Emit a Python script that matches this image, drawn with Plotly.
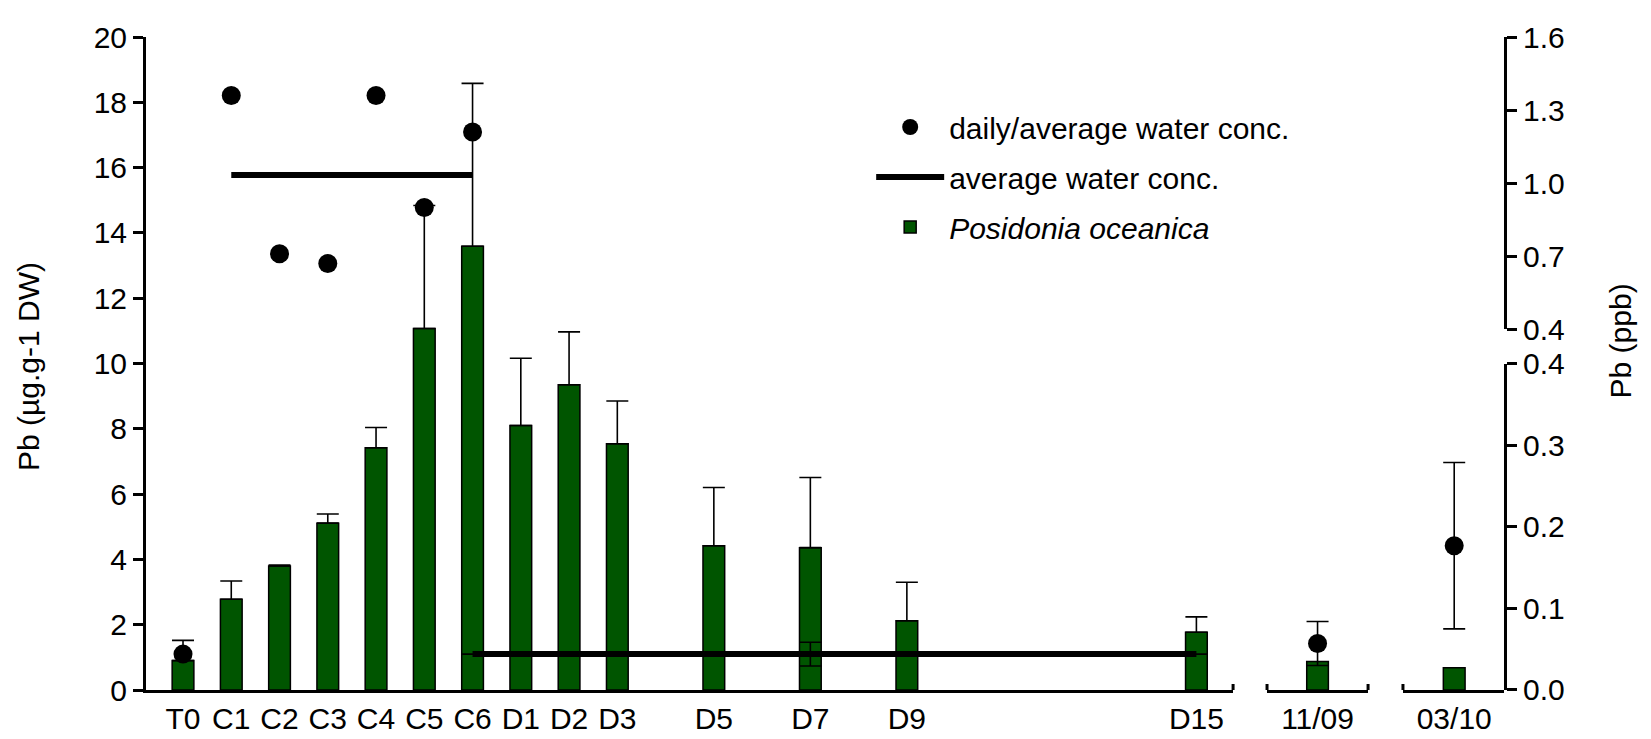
import plotly.graph_objects as go

# ---------------- data ----------------
cats_main = ["T0", "C1", "C2", "C3", "C4", "C5", "C6", "D1", "D2", "D3", "D5", "D7", "D9", "D15"]
day_main = [0, 1, 2, 3, 4, 5, 6, 7, 8, 9, 11, 13, 15, 21]
posidonia_main = [0.90, 2.78, 3.80, 5.11, 7.42, 11.07, 13.59, 8.10, 9.35, 7.54, 4.42, 4.36, 2.12, 1.77]
posidonia_main_err = [0.62, 0.56, 0.03, 0.28, 0.62, 3.77, 4.99, 2.06, 1.62, 1.31, 1.78, 2.15, 1.18, 0.47]

cat_nov = ["11/09"]
posidonia_nov = [0.87]
cat_mar = ["03/10"]
posidonia_mar = [0.68]

# water concentrations (ppb, right axis)
water_high_cats = ["C1", "C2", "C3", "C4", "C5", "C6"]
water_high = [1.36, 0.71, 0.67, 1.36, 0.90, 1.21]
water_t0_cat = ["T0"]
water_t0 = [0.044]
avg_contam_cats = ["C1", "C6"]
avg_contam = [1.034, 1.034]
avg_depur_cats = ["C6", "D7", "D15"]
avg_depur = [0.044, 0.044, 0.044]
avg_depur_err = [0.0, 0.0145, 0.0]
water_nov = [0.057]
water_nov_err = [0.027]
water_mar = [0.177]
water_mar_err = [0.102]

right_hi_ticks = [0.4, 0.7, 1.0, 1.3, 1.6]

# ---------------- helpers ----------------
pos = dict(zip(cats_main, day_main))
GREEN = "#005500"
FONT = "Liberation Sans, Arial, sans-serif"
FS = 30
BARW = 0.45


def err(arr, minus=None):
    return dict(type="data", array=arr, arrayminus=minus if minus is not None else arr,
                symmetric=minus is None, color="black", thickness=1.6, width=11, visible=True)


fig = go.Figure()

# bars
fig.add_trace(go.Bar(x=day_main, y=posidonia_main, width=BARW, xaxis="x", yaxis="y",
                     marker=dict(color=GREEN, line=dict(color="black", width=1.5)),
                     error_y=err(posidonia_main_err, [0] * len(posidonia_main_err)),
                     name="<i>Posidonia oceanica</i>", legendgroup="p", legendrank=3, showlegend=True))
fig.add_trace(go.Bar(x=[0], y=posidonia_nov, width=BARW, xaxis="x2", yaxis="y",
                     marker=dict(color=GREEN, line=dict(color="black", width=1.5)),
                     legendgroup="p", showlegend=False))
fig.add_trace(go.Bar(x=[0], y=posidonia_mar, width=BARW, xaxis="x3", yaxis="y",
                     marker=dict(color=GREEN, line=dict(color="black", width=1.5)),
                     legendgroup="p", showlegend=False))

# average lines
fig.add_trace(go.Scatter(x=[pos[c] for c in avg_contam_cats], y=avg_contam, mode="lines",
                         xaxis="x", yaxis="y3", line=dict(color="black", width=6),
                         name="average water conc.", legendgroup="l", legendrank=2, showlegend=True))
fig.add_trace(go.Scatter(x=[pos[c] for c in avg_depur_cats], y=avg_depur, mode="lines",
                         xaxis="x", yaxis="y2", line=dict(color="black", width=6),
                         error_y=err(avg_depur_err), legendgroup="l", showlegend=False))

# daily dots
fig.add_trace(go.Scatter(x=[pos[c] for c in water_high_cats], y=water_high, mode="markers",
                         xaxis="x", yaxis="y3", marker=dict(color="black", size=19),
                         name="daily/average water conc.", legendgroup="d", legendrank=1, showlegend=True))
fig.add_trace(go.Scatter(x=[pos[c] for c in water_t0_cat], y=water_t0, mode="markers",
                         xaxis="x", yaxis="y2", marker=dict(color="black", size=19),
                         legendgroup="d", showlegend=False))
fig.add_trace(go.Scatter(x=[0], y=water_nov, mode="markers", xaxis="x2", yaxis="y2",
                         marker=dict(color="black", size=19), error_y=err(water_nov_err),
                         legendgroup="d", showlegend=False))
fig.add_trace(go.Scatter(x=[0], y=water_mar, mode="markers", xaxis="x3", yaxis="y2",
                         marker=dict(color="black", size=19), error_y=err(water_mar_err),
                         legendgroup="d", showlegend=False))

axis_common = dict(showgrid=False, zeroline=False, showline=True, linecolor="black", linewidth=3,
                   tickfont=dict(family=FONT, size=FS, color="black"))

fig.update_layout(
    width=1651, height=739,
    margin=dict(l=138, r=155, t=23, b=41),
    paper_bgcolor="white", plot_bgcolor="rgba(0,0,0,0)",
    barmode="overlay",
    font=dict(family=FONT, size=FS, color="black"),
    xaxis=dict(domain=[0, 0.8005], range=[-0.767, 21.76], anchor="y",
               tickmode="array", tickvals=day_main, ticktext=cats_main, ticks="", **axis_common),
    xaxis2=dict(domain=[0.8255, 0.8999], range=[-1.05, 1.05], anchor="y",
                tickmode="array", tickvals=[0], ticktext=cat_nov, ticks="", **axis_common),
    xaxis3=dict(domain=[0.9256, 1.0], range=[-1.06, 1.03], anchor="y",
                tickmode="array", tickvals=[0], ticktext=cat_mar, ticks="", **axis_common),
    yaxis=dict(domain=[0, 1], range=[0, 20], anchor="x", dtick=2, tick0=0,
               ticks="outside", ticklen=10, tickwidth=3, tickcolor="black", **axis_common),
    yaxis2=dict(domain=[0, 0.4995], range=[0, 0.4], anchor="x3", side="right",
                dtick=0.1, tick0=0, tickformat=".1f",
                ticks="outside", ticklen=10, tickwidth=3, tickcolor="black", **axis_common),
    yaxis3=dict(domain=[0.5523, 1], range=[0.4, 1.6], anchor="x3", side="right",
                tickmode="array", tickvals=right_hi_ticks, ticktext=[f"{v:.1f}" for v in right_hi_ticks],
                ticks="outside", ticklen=10, tickwidth=3, tickcolor="black", **axis_common),
    legend=dict(x=0.534, y=0.902, xanchor="left", yanchor="top", traceorder="grouped",
                tracegroupgap=8, itemwidth=68, bgcolor="rgba(0,0,0,0)",
                font=dict(family=FONT, size=FS, color="black")),
    annotations=[
        dict(text="Pb (µg.g-1 DW)", xref="paper", yref="paper", x=-0.087, y=0.496,
             xanchor="center", yanchor="middle",
             textangle=-90, showarrow=False, font=dict(family=FONT, size=FS, color="black")),
        dict(text="Pb (ppb)", xref="paper", yref="paper", x=1.0855, y=0.534,
             xanchor="center", yanchor="middle",
             textangle=-90, showarrow=False, font=dict(family=FONT, size=FS, color="black")),
    ],
)

# axis-break caps at the ends of the x-axis segments
caps = [("x domain", 1), ("x2 domain", 0), ("x2 domain", 1), ("x3 domain", 0)]
for xr, xv in caps:
    fig.add_shape(type="line", xref=xr, x0=xv, x1=xv, yref="y", ysizemode="pixel", yanchor=0,
                  y0=-11, y1=6, line=dict(color="black", width=3))

fig.write_html("out.html")
